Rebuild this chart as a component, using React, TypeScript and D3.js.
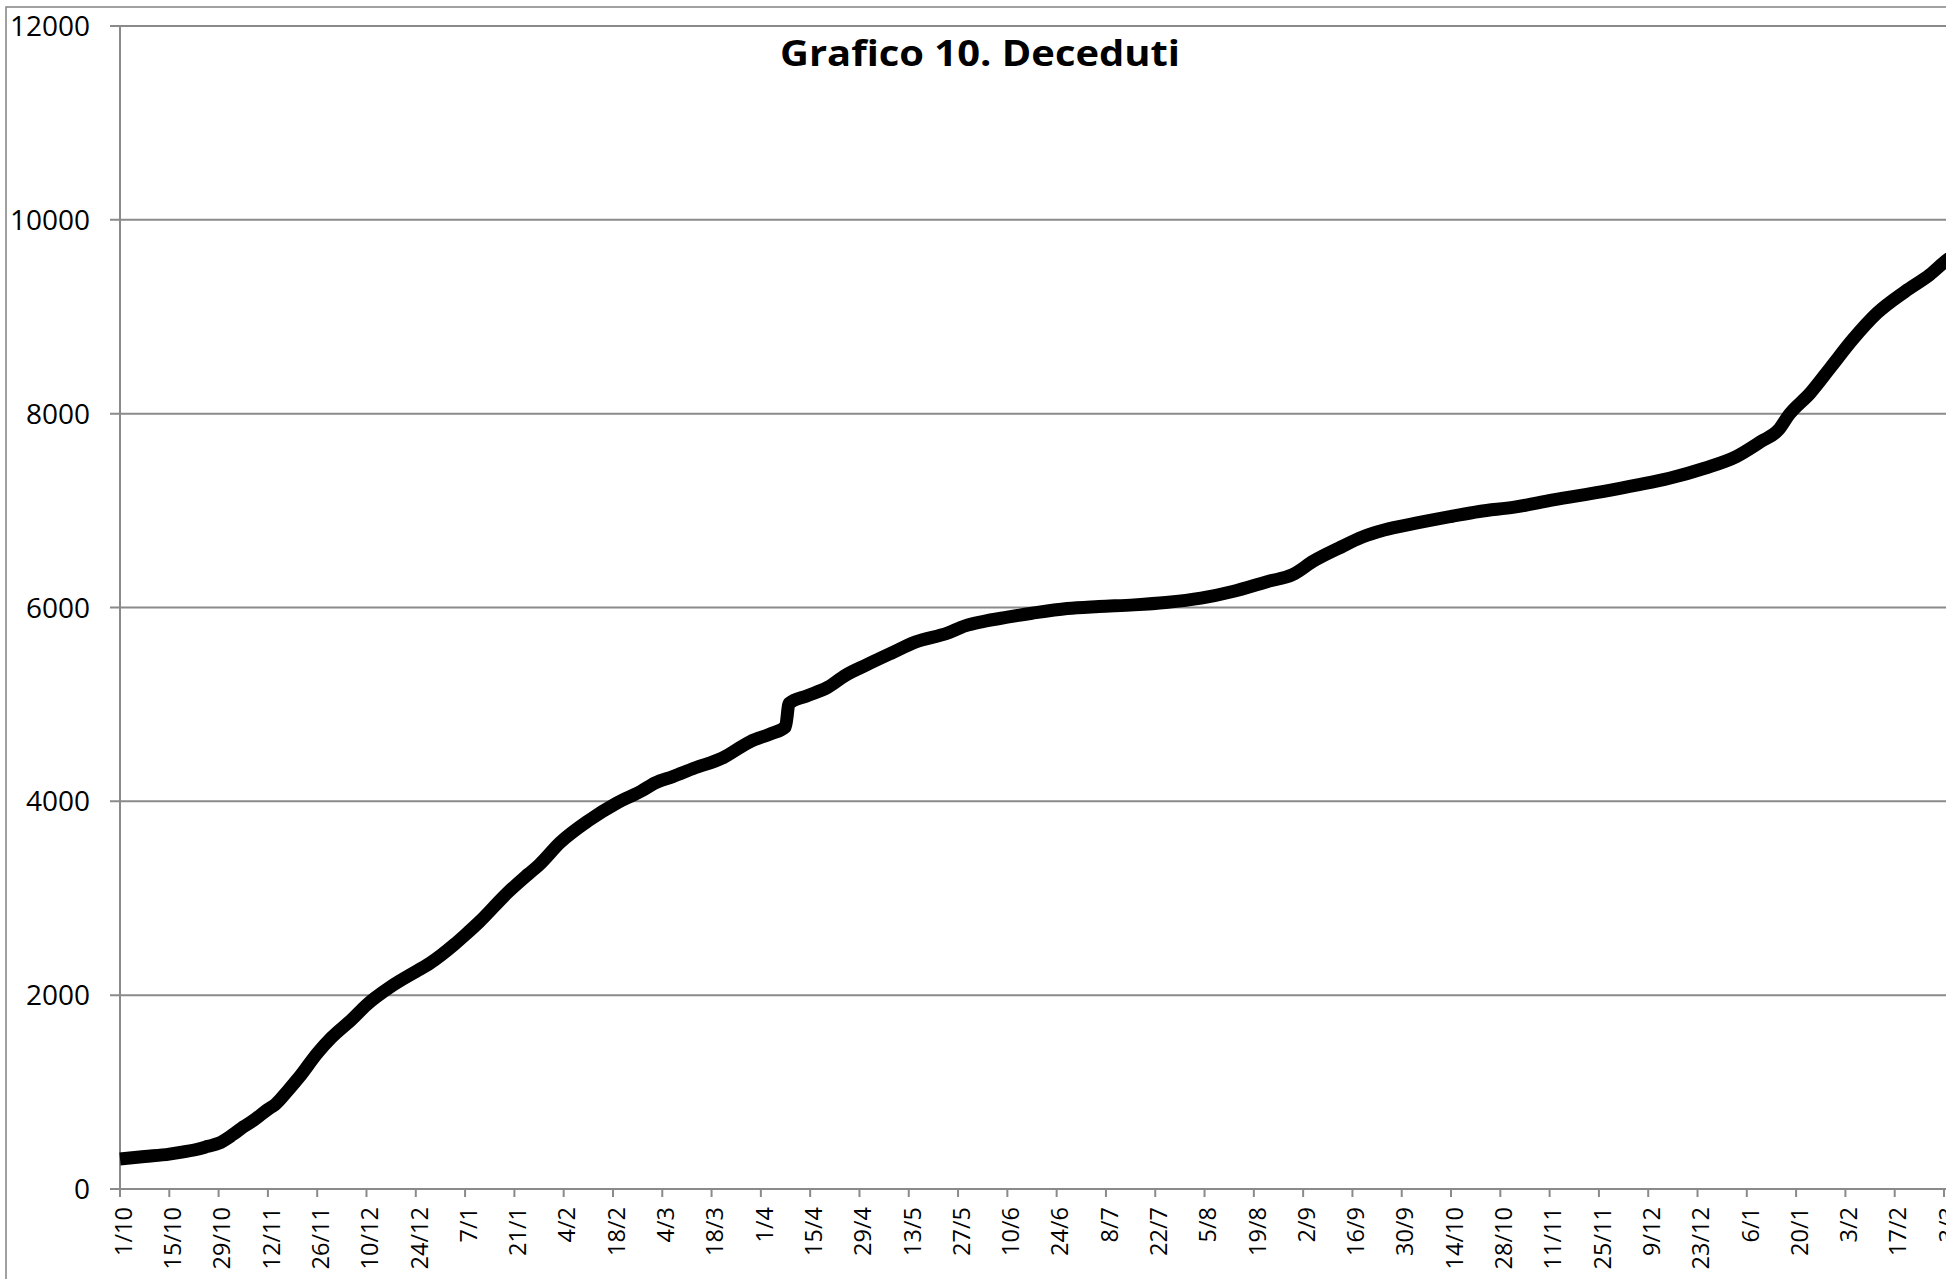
import React, { useEffect } from "react";
import * as d3 from "d3";

// Cumulative deaths
const dates = [
  "2020-10-01", "2020-10-08", "2020-10-15", "2020-10-19", "2020-10-23", "2020-10-26", "2020-10-29",
  "2020-11-02", "2020-11-05", "2020-11-08", "2020-11-12", "2020-11-14", "2020-11-18", "2020-11-21",
  "2020-11-26", "2020-11-30", "2020-12-06", "2020-12-10", "2020-12-17", "2020-12-24", "2020-12-28",
  "2021-01-04", "2021-01-07", "2021-01-11", "2021-01-19", "2021-01-25", "2021-01-28",
  "2021-02-03", "2021-02-11", "2021-02-19", "2021-02-26", "2021-03-02", "2021-03-07",
  "2021-03-13", "2021-03-21", "2021-03-29", "2021-04-04", "2021-04-08", "2021-04-09",
  "2021-04-14", "2021-04-20", "2021-04-25", "2021-05-01", "2021-05-08", "2021-05-15",
  "2021-05-24", "2021-05-29", "2021-06-03", "2021-06-10", "2021-06-17", "2021-06-27",
  "2021-07-06", "2021-07-16", "2021-07-25", "2021-08-04", "2021-08-13", "2021-08-23",
  "2021-08-30", "2021-09-05", "2021-09-12", "2021-09-19", "2021-09-25", "2021-10-04",
  "2021-10-14", "2021-10-22", "2021-11-01", "2021-11-12", "2021-11-26", "2021-12-06",
  "2021-12-15", "2021-12-25", "2022-01-03", "2022-01-10", "2022-01-15", "2022-01-18",
  "2022-01-24", "2022-01-30", "2022-02-05", "2022-02-12", "2022-02-20", "2022-02-27",
  "2022-03-04", "2022-03-05",
];

const deaths = [
  310, 335, 360, 383, 410, 440, 471,
  560, 640, 710, 822, 870, 1030, 1159,
  1400, 1560, 1755, 1899, 2090, 2243, 2329,
  2525, 2621, 2755, 3055, 3250, 3344,
  3575, 3800, 3980, 4105, 4190, 4255,
  4341, 4445, 4617, 4700, 4770, 5010,
  5088, 5177, 5300, 5408, 5528, 5645,
  5735, 5810, 5855, 5900, 5941, 5990,
  6010, 6027, 6051, 6096, 6165, 6269,
  6338, 6480, 6610, 6730, 6800, 6870,
  6939, 6991, 7035, 7110, 7196, 7265,
  7334, 7437, 7557, 7712, 7833, 7990,
  8212, 8487, 8762, 9038, 9262, 9435,
  9590, 9615,
];

const yTicks = [0, 2000, 4000, 6000, 8000, 10000, 12000];

const xTickLabels = [
  "1/10", "15/10", "29/10", "12/11", "26/11", "10/12", "24/12", "7/1", "21/1", "4/2",
  "18/2", "4/3", "18/3", "1/4", "15/4", "29/4", "13/5", "27/5", "10/6", "24/6",
  "8/7", "22/7", "5/8", "19/8", "2/9", "16/9", "30/9", "14/10", "28/10", "11/11",
  "25/11", "9/12", "23/12", "6/1", "20/1", "3/2", "17/2", "3/3",
];
const tickStepDays = 14;

const title = "Grafico 10. Deceduti";

const W = 1946;
const H = 1279;
const plotLeft = 120;
const plotTop = 26;
const plotBottom = 1189;
const lastTickX = 1944;
const gridColor = "#8a8a8a";
const font = "'Open Sans', 'Liberation Sans', Arial, sans-serif";

export default function App() {
  useEffect(() => {
    document.body.style.margin = "0";
    document.body.style.overflow = "hidden";
  }, []);

  const parse = d3.utcParse("%Y-%m-%d");
  const start = parse(dates[0]) as Date;
  const tickDates = xTickLabels.map((_, i) => d3.utcDay.offset(start, i * tickStepDays));
  const x = d3
    .scaleUtc()
    .domain([start, tickDates[tickDates.length - 1]])
    .range([plotLeft, lastTickX]);
  const y = d3.scaleLinear().domain([0, 12000]).range([plotBottom, plotTop]);

  const pts: [number, number][] = dates.map((d, i) => [x(parse(d) as Date), y(deaths[i])]);
  const path = d3.line().curve(d3.curveMonotoneX)(pts) || "";

  const rightEnd = W + 60;

  return (
    <svg
      width={W}
      height={H}
      style={{ position: "absolute", left: 0, top: 0, background: "#fff" }}
      xmlns="http://www.w3.org/2000/svg"
    >
      <rect x={0} y={0} width={W} height={H} fill="#fff" />
      {/* outer chart border */}
      <rect x={6} y={7} width={W + 100} height={H + 100} fill="none" stroke={gridColor} strokeWidth={1.6} />

      {/* horizontal gridlines + y ticks */}
      {yTicks.map((t) => (
        <g key={t}>
          <line x1={plotLeft - 10} x2={rightEnd} y1={y(t)} y2={y(t)} stroke={gridColor} strokeWidth={2} />
          <text
            x={90}
            y={y(t)}
            dy="0.36em"
            textAnchor="end"
            fontFamily={font}
            fontSize={28}
            fill="#000"
          >
            {t}
          </text>
        </g>
      ))}

      {/* y axis */}
      <line x1={plotLeft} x2={plotLeft} y1={plotTop} y2={plotBottom} stroke={gridColor} strokeWidth={2} />

      {/* x ticks and labels */}
      {tickDates.map((d, i) => {
        const tx = x(d);
        return (
          <g key={i}>
            <line x1={tx} x2={tx} y1={plotBottom} y2={plotBottom + 8} stroke={gridColor} strokeWidth={2} />
            <text
              transform={`translate(${tx},1207) rotate(-90)`}
              dy="0.5em"
              textAnchor="end"
              fontFamily={font}
              fontSize={23.5}
              fill="#000"
            >
              {xTickLabels[i]}
            </text>
          </g>
        );
      })}

      {/* data line */}
      <path d={path} fill="none" stroke="#000" strokeWidth={13} strokeLinejoin="round" strokeLinecap="butt" />

      {/* title */}
      <text
        x={980}
        y={66}
        textAnchor="middle"
        fontFamily={font}
        fontWeight="bold"
        fontSize={35}
        textLength={400}
        lengthAdjust="spacingAndGlyphs"
        fill="#000"
      >
        {title}
      </text>
    </svg>
  );
}
